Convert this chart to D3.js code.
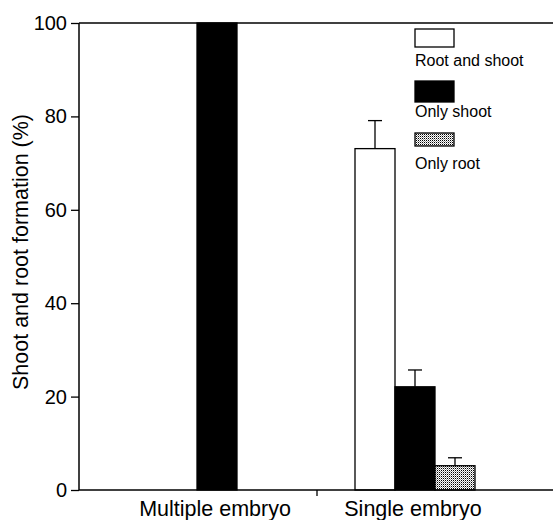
<!DOCTYPE html>
<html><head><meta charset="utf-8">
<script src="https://d3js.org/d3.v7.min.js"></script>
<style>
html,body{margin:0;padding:0;background:#fff;}
svg{display:block;font-family:"Liberation Sans",Arial,Helvetica,sans-serif;}
</style></head>
<body>
<svg id="chart" width="553" height="520"></svg>
<script>
const categories = ["Multiple embryo", "Single embryo"];
const series = ["Root and shoot", "Only shoot", "Only root"];
const valuesMultiple = [0, 100, 0];
const valuesSingle = [73.1, 22.1, 5.2];
const errorsMultiple = [null, null, null];
const errorsSingle = [6.0, 3.6, 1.7];
const yTicks = [0, 20, 40, 60, 80, 100];
const yTitle = "Shoot and root formation (%)";

const allValues = [valuesMultiple, valuesSingle];
const allErrors = [errorsMultiple, errorsSingle];

const svg = d3.select("#chart");
const axisLeft = 79, axisRight = 553, yTop = 23, yBottom = 490;

const defs = svg.append("defs");
const pat = defs.append("pattern").attr("id","dots").attr("patternUnits","userSpaceOnUse")
  .attr("width",2).attr("height",2);
pat.append("rect").attr("width",2).attr("height",2).attr("fill","#fff");
pat.append("rect").attr("width",1).attr("height",1).attr("fill","#000");
pat.append("rect").attr("x",1).attr("y",1).attr("width",1).attr("height",1).attr("fill","#999");

const fills = ["#fff", "#000", "url(#dots)"];

const y = d3.scaleLinear().domain([0,100]).range([yBottom, yTop]);
const x0 = d3.scaleBand().domain(categories).range([119, 515]).padding(0);
const x1 = d3.scaleBand().domain(series).range([38, 158]).padding(0);

// bars
const groups = svg.selectAll("g.grp").data(categories).enter().append("g")
  .attr("transform", d => `translate(${x0(d)},0)`);
groups.each(function(cat, ci){
  const g = d3.select(this);
  series.forEach((s, si) => {
    const v = allValues[ci][si];
    if (v > 0) {
      g.append("rect")
        .attr("x", x1(s)).attr("width", x1.bandwidth())
        .attr("y", y(v)).attr("height", y(0) - y(v))
        .attr("fill", fills[si]).attr("stroke", "#000").attr("stroke-width", 1.3);
    }
    const e = allErrors[ci][si];
    if (e != null && v > 0) {
      const cx = x1(s) + x1.bandwidth()/2;
      g.append("line").attr("x1", cx).attr("x2", cx).attr("y1", y(v)).attr("y2", y(v+e))
        .attr("stroke","#000").attr("stroke-width",1.3);
      g.append("line").attr("x1", cx-7).attr("x2", cx+7).attr("y1", y(v+e)).attr("y2", y(v+e))
        .attr("stroke","#000").attr("stroke-width",1.3);
    }
  });
});

// y axis
const yAxis = d3.axisLeft(y).tickValues(yTicks).tickSize(8).tickPadding(4);
const ya = svg.append("g").attr("transform", `translate(${axisLeft},0)`).call(yAxis);
ya.select(".domain").attr("stroke","#000").attr("stroke-width",1.5).attr("d", `M0,${yTop}V${yBottom}`);
ya.selectAll(".tick line").attr("stroke","#000").attr("stroke-width",1.3);
ya.selectAll(".tick text").attr("font-size", 20).attr("fill","#000")
  .attr("font-family","Liberation Sans, Arial, sans-serif");

// top line
svg.append("line").attr("x1", axisLeft).attr("x2", axisRight).attr("y1", yTop).attr("y2", yTop)
  .attr("stroke","#000").attr("stroke-width",1.5);

// x axis
svg.append("line").attr("x1", axisLeft).attr("x2", axisRight).attr("y1", yBottom).attr("y2", yBottom)
  .attr("stroke","#000").attr("stroke-width",1.5);
svg.append("line").attr("x1", x0(categories[1])).attr("x2", x0(categories[1]))
  .attr("y1", yBottom).attr("y2", yBottom + 6).attr("stroke","#000").attr("stroke-width",1.3);
svg.selectAll("text.cat").data(categories).enter().append("text")
  .attr("class","cat")
  .attr("x", d => x0(d) + x0.bandwidth()/2 - 3).attr("y", 515.5)
  .attr("text-anchor","middle").attr("font-size", 21.5).attr("fill","#000")
  .text(d => d);

// y title
svg.append("text").attr("transform", `translate(28,252) rotate(-90)`)
  .attr("text-anchor","middle").attr("font-size", 21.5).attr("fill","#000").text(yTitle);

// legend
const legX = 415;
const legBoxes = [{y:29, h:18}, {y:81, h:21}, {y:133, h:13}];
const legTextY = [66, 117, 169];
series.forEach((s, i) => {
  svg.append("rect").attr("x", legX).attr("y", legBoxes[i].y).attr("width", 39).attr("height", legBoxes[i].h)
    .attr("fill", fills[i]).attr("stroke","#000").attr("stroke-width",1.3);
  svg.append("text").attr("x", legX).attr("y", legTextY[i]).attr("font-size", 16).attr("fill","#000").text(s);
});
</script>
</body></html>
